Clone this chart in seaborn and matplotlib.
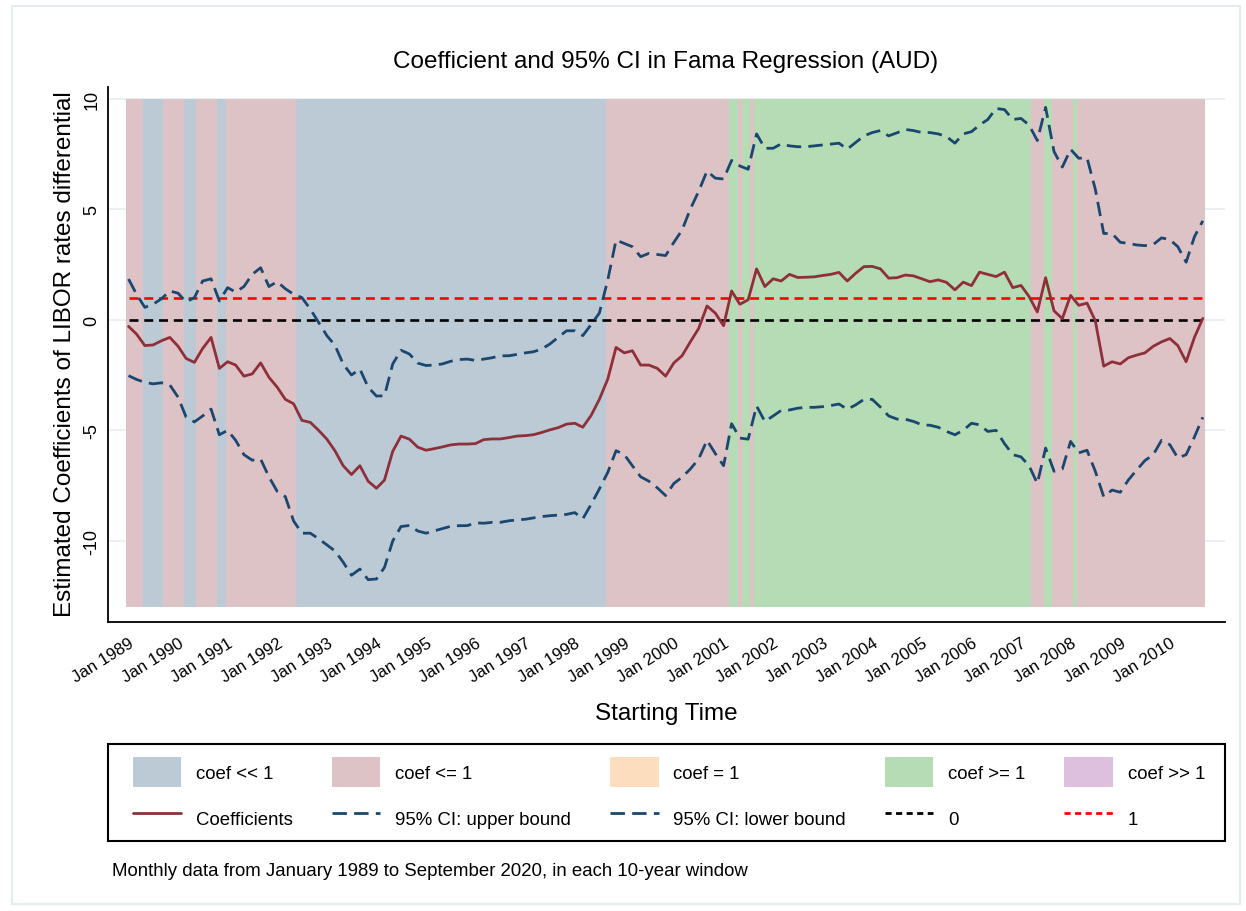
import numpy as np
import pandas as pd
import seaborn as sns
import matplotlib.pyplot as plt
import matplotlib.dates as mdates
from matplotlib.patches import Patch, Rectangle
from matplotlib.lines import Line2D

# --- data (every second month, Jan 1989 - Sep 2010) ---
coef = [
    -0.30, -0.65, -1.17, -1.14, -0.95, -0.80, -1.20, -1.75, -1.93, -1.30,
    -0.80, -2.20, -1.90, -2.05, -2.55, -2.45, -1.95, -2.60, -3.05, -3.60,
    -3.80, -4.55, -4.64, -5.00, -5.40, -5.92, -6.60, -7.00, -6.60, -7.30,
    -7.62, -7.25, -5.95, -5.26, -5.40, -5.76, -5.90, -5.83, -5.75, -5.66,
    -5.62, -5.62, -5.60, -5.42, -5.39, -5.39, -5.33, -5.26, -5.24, -5.20,
    -5.10, -4.98, -4.88, -4.72, -4.68, -4.86, -4.33, -3.60, -2.68, -1.25,
    -1.50, -1.40, -2.05, -2.05, -2.20, -2.55, -1.95, -1.63, -1.00, -0.40,
    0.62, 0.30, -0.27, 1.30, 0.70, 0.90, 2.30, 1.50, 1.85, 1.75,
    2.05, 1.91, 1.92, 1.94, 2.00, 2.05, 2.14, 1.75, 2.10, 2.40,
    2.41, 2.30, 1.88, 1.90, 2.02, 1.98, 1.85, 1.72, 1.80, 1.69,
    1.35, 1.70, 1.54, 2.15, 2.05, 1.95, 2.15, 1.45, 1.55, 1.05,
    0.35, 1.90, 0.40, 0.05, 1.10, 0.65, 0.75, -0.05, -2.10, -1.90,
    -2.00, -1.72, -1.60, -1.50, -1.20, -1.00, -0.85, -1.17, -1.90, -0.80,
    0.06,
]
upper = [
    1.84, 1.15, 0.56, 0.70, 0.95, 1.30, 1.20, 0.80, 1.00, 1.75,
    1.85, 0.85, 1.45, 1.25, 1.50, 2.05, 2.35, 1.50, 1.72, 1.40,
    1.15, 1.00, 0.48, -0.12, -0.72, -1.15, -2.00, -2.50, -2.23, -3.05,
    -3.45, -3.44, -2.00, -1.38, -1.55, -1.96, -2.07, -2.05, -2.00, -1.88,
    -1.80, -1.78, -1.84, -1.78, -1.72, -1.63, -1.63, -1.57, -1.50, -1.45,
    -1.33, -1.10, -0.80, -0.50, -0.50, -0.72, -0.22, 0.30, 1.80, 3.60,
    3.45, 3.30, 2.85, 3.00, 2.95, 2.90, 3.50, 4.05, 5.00, 5.80,
    6.72, 6.40, 6.36, 7.20, 6.95, 6.80, 8.40, 7.75, 7.75, 7.95,
    7.86, 7.82, 7.82, 7.86, 7.90, 7.94, 7.98, 7.71, 8.01, 8.31,
    8.46, 8.55, 8.31, 8.45, 8.60, 8.55, 8.46, 8.46, 8.40, 8.28,
    7.98, 8.40, 8.50, 8.80, 9.05, 9.55, 9.50, 9.05, 9.10, 8.80,
    8.10, 9.60, 7.60, 6.90, 7.70, 7.30, 7.32, 5.90, 3.90, 3.90,
    3.50, 3.45, 3.38, 3.35, 3.40, 3.70, 3.62, 3.30, 2.60, 3.75,
    4.47,
]
lower = [
    -2.53, -2.70, -2.83, -2.90, -2.85, -2.95, -3.50, -4.40, -4.62, -4.35,
    -4.04, -5.20, -5.00, -5.45, -6.10, -6.35, -6.30, -7.10, -7.76, -8.00,
    -9.10, -9.65, -9.65, -9.90, -10.18, -10.45, -10.96, -11.55, -11.27, -11.75,
    -11.72, -11.20, -10.00, -9.35, -9.30, -9.55, -9.65, -9.55, -9.45, -9.34,
    -9.31, -9.31, -9.18, -9.20, -9.16, -9.16, -9.09, -9.05, -9.02, -8.96,
    -8.90, -8.86, -8.83, -8.80, -8.72, -9.00, -8.35, -7.65, -6.90, -5.92,
    -6.10, -6.60, -7.10, -7.30, -7.60, -7.95, -7.40, -7.12, -6.75, -6.30,
    -5.45, -6.05, -6.60, -4.70, -5.35, -5.40, -3.90, -4.60, -4.35, -4.10,
    -4.08, -4.00, -3.96, -3.96, -3.93, -3.88, -3.81, -4.05, -3.85, -3.60,
    -3.60, -3.95, -4.35, -4.49, -4.50, -4.60, -4.75, -4.77, -4.86, -5.05,
    -5.20, -5.00, -4.68, -4.75, -5.05, -5.00, -5.60, -6.10, -6.20, -6.60,
    -7.40, -5.80, -6.85, -6.75, -5.50, -6.02, -5.90, -6.85, -8.00, -7.70,
    -7.80, -7.25, -6.80, -6.37, -6.10, -5.45, -5.65, -6.25, -6.10, -5.30,
    -4.41,
]
dates = pd.date_range("1989-01-01", periods=len(coef), freq="2MS")

# coefficient regime per month (run lengths)
regime_codes = ["le", "ll", "le", "ll", "le", "ll", "le", "ll", "le", "ge",
                "le", "ge", "le", "ge", "le", "ge", "le", "ge", "le"]
regime_months = [4, 5, 5, 3, 5, 2, 17, 75, 30, 2, 1, 2, 1, 67, 3, 2, 5, 1, 31]
months = pd.date_range("1989-01-01", "2010-09-01", freq="MS")
shade_bottom, shade_top = -13, 10

ref_levels = [0, 1]

categories = ["ll", "le", "eq", "ge", "gg"]
category_labels = ["coef << 1", "coef <= 1", "coef = 1", "coef >= 1", "coef >> 1"]
category_colors = ["#BCCAD6", "#DEC3C6", "#FCDDBD", "#B5DCB5", "#DDBFDE"]
line_labels = ["Coefficients", "95% CI: upper bound", "95% CI: lower bound", "0", "1"]

sns.set_style("white")
plt.rcParams["font.family"] = ["Liberation Sans", "DejaVu Sans"]
plt.rcParams["text.color"] = "black"
plt.rcParams["xtick.color"] = "black"
plt.rcParams["ytick.color"] = "black"

fig = plt.figure(figsize=(12.46, 9.12), dpi=100)
ax = fig.add_axes([0.0867, 0.317, 0.8963, 0.5865])

cmap = dict(zip(categories, category_colors))
month_regime = np.repeat(regime_codes, regime_months)
ax.bar(months, shade_top - shade_bottom, bottom=shade_bottom, width=31,
       color=[cmap[c] for c in month_regime], linewidth=0, zorder=1)

maroon = "#8E2F39"
navy = "#1A476F"
ci_dash = (0, (5.2, 2.6))
ref_dash = (0, (3.4, 2.2))
sns.lineplot(x=dates, y=coef, ax=ax, color=maroon, linewidth=2.0, zorder=4)
sns.lineplot(x=dates, y=upper, ax=ax, color=navy, linewidth=2.0,
             linestyle=ci_dash, zorder=4)
sns.lineplot(x=dates, y=lower, ax=ax, color=navy, linewidth=2.0,
             linestyle=ci_dash, zorder=4)
ax.hlines(ref_levels[0], months[0], months[-1], colors="black", linewidth=1.9,
          linestyles=ref_dash, zorder=3)
ax.hlines(ref_levels[1], months[0], months[-1], colors="#FF0000", linewidth=1.9,
          linestyles=ref_dash, zorder=3)

ax.set_xlim(months[0] - pd.Timedelta(days=151), months[-1] + pd.Timedelta(days=162))
ax.set_ylim(-13.66, 10.52)
ax.set_xlabel("")
ax.set_ylabel("")

ax.set_yticks([-10, -5, 0, 5, 10])
ax.set_yticklabels(["-10", "-5", "0", "5", "10"], rotation=90, va="center", fontsize=13)
ax.xaxis.set_major_formatter(mdates.DateFormatter("%b %Y"))
ax.set_xticks(pd.date_range("1989-01-01", "2010-01-01", freq="YS"))
plt.setp(ax.get_xticklabels(), rotation=32, ha="right", rotation_mode="anchor", fontsize=12.2)
ax.tick_params(axis="x", direction="out", length=8, width=1.2, color="black", pad=1.5)
ax.tick_params(axis="y", direction="out", length=5, width=1.2, color="black", pad=0.5)

ax.yaxis.grid(True, color="#E6EEF1", linewidth=1.2)
ax.xaxis.grid(False)
ax.set_axisbelow(True)
for side in ["top", "right"]:
    ax.spines[side].set_visible(False)
for side in ["left", "bottom"]:
    ax.spines[side].set_color("black")
    ax.spines[side].set_linewidth(1.3)

fig.text(0.5345, 0.932, "Coefficient and 95% CI in Fama Regression (AUD)",
         ha="center", va="center", fontsize=17.5)
fig.text(0.052, 0.612, "Estimated Coefficients of LIBOR rates differential",
         ha="center", va="center", rotation=90, fontsize=17.5)
fig.text(0.5345, 0.217, "Starting Time", ha="center", va="center", fontsize=17.5)
fig.text(112 / 1246, 1 - 872 / 912,
         "Monthly data from January 1989 to September 2020, in each 10-year window",
         ha="left", va="center", fontsize=13.4)

# legend: patches on the first row, lines on the second
line_styles = [
    dict(color=maroon, linestyle="-"),
    dict(color=navy, linestyle=ci_dash),
    dict(color=navy, linestyle=ci_dash),
    dict(color="black", linestyle=(0, (2.2, 1.6))),
    dict(color="#FF0000", linestyle=(0, (2.2, 1.6))),
]
handles, labels = [], []
for i in range(5):
    handles.append(Patch(facecolor=category_colors[i], edgecolor="none"))
    labels.append(category_labels[i])
    handles.append(Line2D([], [], linewidth=2.0, **line_styles[i]))
    labels.append(line_labels[i])

fig.legend(handles, labels, ncol=5, loc="upper left",
           bbox_to_anchor=(133 / 1246, 1 - 842 / 912, 1072 / 1246, 84 / 912),
           mode="expand", fontsize=13.4, frameon=False,
           handlelength=2.6, handleheight=2.1, handletextpad=0.8,
           labelspacing=0.86, borderpad=0, borderaxespad=0)

# legend box and outer graph frame
fig.patches.append(Rectangle((108 / 1246, 1 - 842 / 912), 1117 / 1246, 97 / 912,
                             transform=fig.transFigure, fill=False,
                             edgecolor="black", linewidth=1.5))
fig.patches.append(Rectangle((12 / 1246, 7 / 912), 1228 / 1246, 898 / 912,
                             transform=fig.transFigure, fill=False,
                             edgecolor="#E4ECEF", linewidth=1.5))

fig.savefig("out.png", dpi=100)
plt.close(fig)
